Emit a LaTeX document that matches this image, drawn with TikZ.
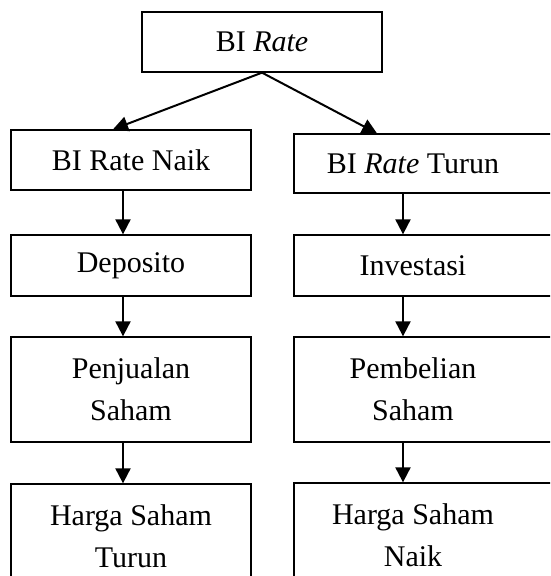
\documentclass[tikz,border=0pt]{standalone}
\usepackage{fontspec}
\setmainfont{Liberation Serif}
\usetikzlibrary{arrows.meta}
\tikzset{
  box/.style={draw,line width=1.3pt,align=center,inner sep=0pt,
    minimum width=240pt,font=\fontsize{30}{42}\selectfont},
  widebox/.style={box,minimum width=266pt}
}
\begin{document}
\begin{tikzpicture}[x=1pt,y=1pt,>={Triangle[length=15pt,width=15pt]}]
        \clip (0,0) rectangle (550,-576);

        \node[box,minimum height=60pt] (rate) at (262,-42) {BI \textit{Rate}};

        \node[box,minimum height=60pt] (naik) at (131,-160) {BI Rate Naik};
        \node[box,minimum height=61pt] (depo) at (131,-265.5) {Deposito};
        \node[box,minimum height=105pt] (jual) at (131,-389.5) {Penjualan\\Saham};
        \node[box,minimum height=105pt] (hturun) at (131,-536.5) {Harga Saham\\Turun};

        \node[widebox,minimum height=59pt] (turun) at (427,-163.5) {\hspace*{-28pt}BI \textit{Rate} Turun};
        \node[widebox,minimum height=61pt] (invest) at (427,-265.5) {\hspace*{-28pt}Investasi};
        \node[widebox,minimum height=105pt] (beli) at (427,-389.5) {\hspace*{-28pt}Pembelian\\\hspace*{-28pt}Saham};
        \node[widebox,minimum height=105pt] (hnaik) at (427,-535.5) {\hspace*{-28pt}Harga Saham\\\hspace*{-28pt}Naik};

        \path (rate.south) edge [->,line width=2pt] ([xshift=-18pt]naik.north);
        \path (rate.south) edge [->,line width=2pt] ([xshift=-50pt]turun.north);

        \path ([xshift=-8pt]naik.south) edge [->,line width=2pt] ([xshift=-8pt]depo.north);
        \path ([xshift=-8pt]depo.south) edge [->,line width=2pt] ([xshift=-8pt]jual.north);
        \path ([xshift=-8pt]jual.south) edge [->,line width=2pt] ([xshift=-8pt]hturun.north);

        \path ([xshift=-24pt]turun.south) edge [->,line width=2pt] ([xshift=-24pt]invest.north);
        \path ([xshift=-24pt]invest.south) edge [->,line width=2pt] ([xshift=-24pt]beli.north);
        \path ([xshift=-24pt]beli.south) edge [->,line width=2pt] ([xshift=-24pt]hnaik.north);
      \end{tikzpicture}
\end{document}
